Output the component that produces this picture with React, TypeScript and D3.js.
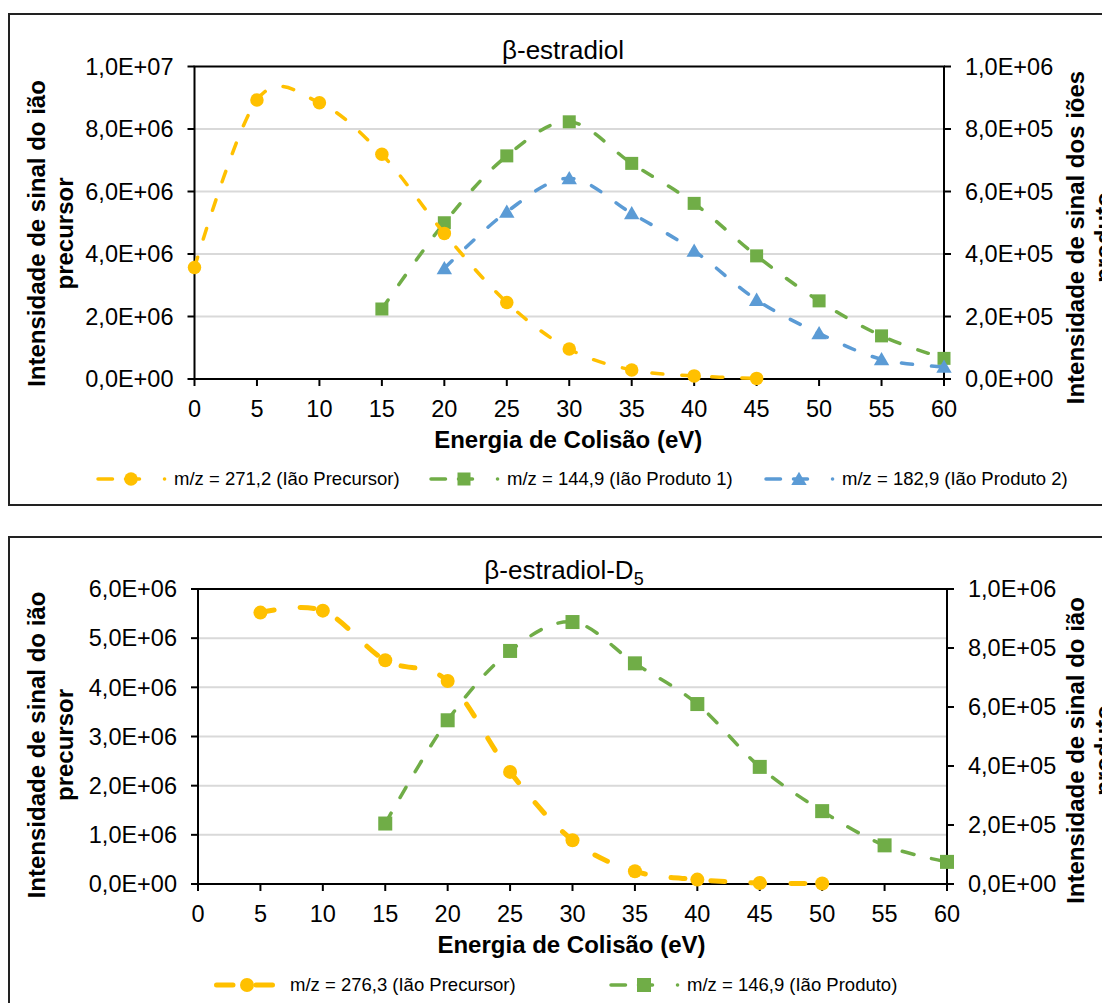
import React from "react";
import * as d3 from "d3";

// Collision energies (eV)
const energyAxisTicks = [0, 5, 10, 15, 20, 25, 30, 35, 40, 45, 50, 55, 60];

// β-estradiol
const estradiolPrecursorX = [0, 5, 10, 15, 20, 25, 30, 35, 40, 45];
const estradiolPrecursorY = [3.57e6, 8.93e6, 8.84e6, 7.19e6, 4.66e6, 2.45e6, 0.96e6, 0.29e6, 0.1e6, 0.02e6];
const estradiolProduct1X = [15, 20, 25, 30, 35, 40, 45, 50, 55, 60];
const estradiolProduct1Y = [2.24e5, 5.0e5, 7.14e5, 8.23e5, 6.9e5, 5.62e5, 3.94e5, 2.5e5, 1.38e5, 0.66e5];
const estradiolProduct2X = [20, 25, 30, 35, 40, 45, 50, 55, 60];
const estradiolProduct2Y = [3.54e5, 5.35e5, 6.42e5, 5.3e5, 4.1e5, 2.53e5, 1.46e5, 0.63e5, 0.39e5];
const estradiolLeftTicks = [0, 2e6, 4e6, 6e6, 8e6, 1e7];
const estradiolRightTicks = [0, 2e5, 4e5, 6e5, 8e5, 1e6];

// β-estradiol-D5
const d5PrecursorX = [5, 10, 15, 20, 25, 30, 35, 40, 45, 50];
const d5PrecursorY = [5.52e6, 5.56e6, 4.55e6, 4.13e6, 2.28e6, 0.89e6, 0.26e6, 0.09e6, 0.02e6, 0.01e6];
const d5ProductX = [15, 20, 25, 30, 35, 40, 45, 50, 55, 60];
const d5ProductY = [2.05e5, 5.55e5, 7.9e5, 8.88e5, 7.48e5, 6.1e5, 3.97e5, 2.47e5, 1.31e5, 0.75e5];
const d5LeftTicks = [0, 1e6, 2e6, 3e6, 4e6, 5e6, 6e6];
const d5RightTicks = [0, 2e5, 4e5, 6e5, 8e5, 1e6];

const FONT = "'Liberation Sans', Arial, Helvetica, sans-serif";
const YELLOW = "#FFC000";
const GREEN = "#70AD47";
const BLUE = "#5B9BD5";

function sci(v: number): string {
  if (v === 0) return "0,0E+00";
  const e = Math.floor(Math.log10(v) + 1e-9);
  const m = v / Math.pow(10, e);
  return m.toFixed(1).replace(".", ",") + "E+" + String(e).padStart(2, "0");
}

type MarkerKind = "circle" | "square" | "triangle";

function Marker({ kind, x, y, color, size }: { kind: MarkerKind; x: number; y: number; color: string; size: number }) {
  if (kind === "circle") return <circle cx={x} cy={y} r={size / 2} fill={color} />;
  if (kind === "square")
    return <rect x={x - size / 2} y={y - size / 2} width={size} height={size} fill={color} />;
  const h = size * 0.95;
  return (
    <path
      d={`M${x},${y - h * 0.55}L${x + size * 0.55},${y + h * 0.45}L${x - size * 0.55},${y + h * 0.45}Z`}
      fill={color}
    />
  );
}

type Series = {
  xs: number[];
  ys: number[];
  axis: "left" | "right";
  color: string;
  marker: MarkerKind;
  markerSize: number;
  width: number;
  dash: string;
};

type LegendItem = {
  x: number;
  label: string;
  color: string;
  marker: MarkerKind;
  markerSize: number;
  long?: boolean;
};

type PanelProps = {
  x0: number;
  x1: number;
  yTop: number;
  yBot: number;
  leftMax: number;
  leftTicks: number[];
  rightMax: number;
  rightTicks: number[];
  series: Series[];
  title: React.ReactNode;
  titleX: number;
  titleY: number;
  leftTitle: string[];
  leftTitleY: number;
  rightTitle: string[];
  rightTitleY: number;
  legendY: number;
  legend: LegendItem[];
};

function Panel(p: PanelProps) {
  const x = d3.scaleLinear().domain([0, 60]).range([p.x0, p.x1]);
  const yL = d3.scaleLinear().domain([0, p.leftMax]).range([p.yBot, p.yTop]);
  const yR = d3.scaleLinear().domain([0, p.rightMax]).range([p.yBot, p.yTop]);
  const curve = d3.curveCatmullRom.alpha(0);
  const midX = (p.x0 + p.x1) / 2;

  return (
    <g fontFamily={FONT}>
      {/* gridlines */}
      {p.leftTicks
        .filter((t) => t > 0 && t < p.leftMax)
        .map((t) => (
          <line key={"g" + t} x1={p.x0} x2={p.x1} y1={yL(t)} y2={yL(t)} stroke="#D9D9D9" strokeWidth={2} />
        ))}
      {/* plot frame */}
      <rect x={p.x0} y={p.yTop} width={p.x1 - p.x0} height={p.yBot - p.yTop} fill="none" stroke="#000" strokeWidth={2} />
      {/* left ticks */}
      {p.leftTicks.map((t) => (
        <g key={"l" + t}>
          <line x1={p.x0 - 7} x2={p.x0} y1={yL(t)} y2={yL(t)} stroke="#000" strokeWidth={2} />
          <text x={p.x0 - 21} y={yL(t)} dy="0.35em" textAnchor="end" fontSize={23.5} fill="#000">
            {sci(t)}
          </text>
        </g>
      ))}
      {/* right ticks */}
      {p.rightTicks.map((t) => (
        <g key={"r" + t}>
          <line x1={p.x1} x2={p.x1 + 7} y1={yR(t)} y2={yR(t)} stroke="#000" strokeWidth={2} />
          <text x={p.x1 + 21} y={yR(t)} dy="0.35em" textAnchor="start" fontSize={23.5} fill="#000">
            {sci(t)}
          </text>
        </g>
      ))}
      {/* x ticks */}
      {energyAxisTicks.map((t) => (
        <g key={"x" + t}>
          <line x1={x(t)} x2={x(t)} y1={p.yBot} y2={p.yBot + 7} stroke="#000" strokeWidth={2} />
          <text x={x(t)} y={p.yBot + 29.5} dy="0.35em" textAnchor="middle" fontSize={23.5} fill="#000">
            {t}
          </text>
        </g>
      ))}
      {/* series */}
      {p.series.map((s, i) => {
        const ys = s.axis === "left" ? yL : yR;
        const pts = s.xs.map((v, j) => [x(v), ys(s.ys[j])] as [number, number]);
        const path = d3.line().curve(curve)(pts) || "";
        return (
          <g key={"s" + i}>
            <path d={path} fill="none" stroke={s.color} strokeWidth={s.width} strokeDasharray={s.dash} strokeLinecap="round" />
            {pts.map((pt, j) => (
              <Marker key={j} kind={s.marker} x={pt[0]} y={pt[1]} color={s.color} size={s.markerSize} />
            ))}
          </g>
        );
      })}
      {/* chart title */}
      <text x={p.titleX} y={p.titleY} textAnchor="middle" fontSize={26} fill="#000">
        {p.title}
      </text>
      {/* axis titles */}
      {p.leftTitle.map((t, i) => (
        <text
          key={"lt" + i}
          transform={`translate(${45 + i * 27.5},${p.leftTitleY}) rotate(-90)`}
          textAnchor="middle"
          fontSize={24}
          fontWeight="bold"
          fill="#000"
        >
          {t}
        </text>
      ))}
      {p.rightTitle.map((t, i) => (
        <text
          key={"rt" + i}
          transform={`translate(${1084 + i * 27.5},${p.rightTitleY}) rotate(-90)`}
          textAnchor="middle"
          fontSize={24}
          fontWeight="bold"
          fill="#000"
        >
          {t}
        </text>
      ))}
      <text x={midX - 1} y={p.yBot + 69} textAnchor="middle" fontSize={24} fontWeight="bold" fill="#000">
        Energia de Colisão (eV)
      </text>
      {/* legend */}
      {p.legend.map((l, i) => (
        <g key={"lg" + i}>
          {l.long ? (
            <line
              x1={l.x + 2.5}
              x2={l.x + 58.5}
              y1={p.legendY}
              y2={p.legendY}
              stroke={l.color}
              strokeWidth={5}
              strokeLinecap="round"
              strokeDasharray="16.5 23 16.5"
            />
          ) : (
            <line
              x1={l.x}
              x2={l.x + 68}
              y1={p.legendY}
              y2={p.legendY}
              stroke={l.color}
              strokeWidth={3.5}
              strokeLinecap="round"
              strokeDasharray="14.5 13 14 25 0.1 10"
            />
          )}
          <Marker kind={l.marker} x={l.x + 33} y={p.legendY} color={l.color} size={l.markerSize} />
          <text x={l.x + 76} y={p.legendY} dy="0.35em" fontSize={18.5} fill="#000">
            {l.label}
          </text>
        </g>
      ))}
    </g>
  );
}

export default function App() {
  return (
    <svg
      width={1102}
      height={1003}
      style={{ position: "absolute", left: 0, top: 0, background: "#fff" }}
    >
      <rect x={0} y={0} width={1102} height={1003} fill="#fff" />
      <rect x={9} y={14} width={1120} height={491} fill="#fff" stroke="#222" strokeWidth={2} />
      <rect x={9} y={537} width={1120} height={500} fill="#fff" stroke="#222" strokeWidth={2} />
      <Panel
        x0={194.5}
        x1={944}
        yTop={66.5}
        yBot={379}
        leftMax={1e7}
        leftTicks={estradiolLeftTicks}
        rightMax={1e6}
        rightTicks={estradiolRightTicks}
        series={[
          { xs: estradiolProduct1X, ys: estradiolProduct1Y, axis: "right", color: GREEN, marker: "square", markerSize: 13, width: 3.5, dash: "11 19" },
          { xs: estradiolProduct2X, ys: estradiolProduct2Y, axis: "right", color: BLUE, marker: "triangle", markerSize: 14, width: 3.5, dash: "11 19" },
          { xs: estradiolPrecursorX, ys: estradiolPrecursorY, axis: "left", color: YELLOW, marker: "circle", markerSize: 13.5, width: 3.5, dash: "11 19" },
        ]}
        title={<tspan>β-estradiol</tspan>}
        titleX={563}
        titleY={59}
        leftTitle={["Intensidade de sinal do ião", "precursor"]}
        leftTitleY={233.5}
        rightTitle={["Intensidade de sinal dos iões", "produto"]}
        rightTitleY={237.5}
        legendY={479}
        legend={[
          { x: 98, label: "m/z = 271,2 (Ião Precursor)", color: YELLOW, marker: "circle", markerSize: 13.5 },
          { x: 431, label: "m/z = 144,9 (Ião Produto 1)", color: GREEN, marker: "square", markerSize: 13 },
          { x: 766, label: "m/z = 182,9 (Ião Produto 2)", color: BLUE, marker: "triangle", markerSize: 14 },
        ]}
      />
      <Panel
        x0={198}
        x1={947}
        yTop={589}
        yBot={884}
        leftMax={6e6}
        leftTicks={d5LeftTicks}
        rightMax={1e6}
        rightTicks={d5RightTicks}
        series={[
          { xs: d5ProductX, ys: d5ProductY, axis: "right", color: GREEN, marker: "square", markerSize: 14, width: 3.5, dash: "12 18" },
          { xs: d5PrecursorX, ys: d5PrecursorY, axis: "left", color: YELLOW, marker: "circle", markerSize: 14, width: 5, dash: "14 26" },
        ]}
        title={
          <>
            <tspan>β-estradiol-D</tspan>
            <tspan fontSize={18} dy={6}>5</tspan>
          </>
        }
        titleX={564}
        titleY={579}
        leftTitle={["Intensidade de sinal do ião", "precursor"]}
        leftTitleY={745}
        rightTitle={["Intensidade de sinal do ião", "produto"]}
        rightTitleY={750.5}
        legendY={985}
        legend={[
          { x: 214, label: "m/z = 276,3 (Ião Precursor)", color: YELLOW, marker: "circle", markerSize: 14, long: true },
          { x: 611, label: "m/z = 146,9 (Ião Produto)", color: GREEN, marker: "square", markerSize: 14 },
        ]}
      />
    </svg>
  );
}
